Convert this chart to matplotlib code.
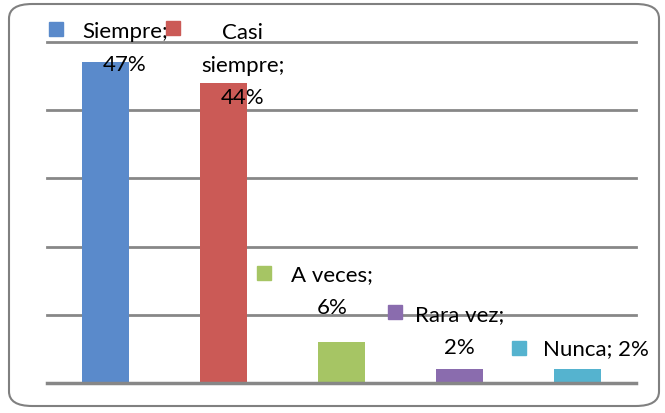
import matplotlib
matplotlib.use("Agg")
import matplotlib.pyplot as plt
from matplotlib.patches import FancyBboxPatch

categories = ["Siempre", "Casi siempre", "A veces", "Rara vez", "Nunca"]
values = [0.47, 0.44, 0.06, 0.02, 0.02]
label_texts = ["Siempre;\n47%", "Casi\nsiempre;\n44%", "A veces;\n6%", "Rara vez;\n2%", "Nunca; 2%"]
colors = ["#5A8ACB", "#CB5A56", "#A6C564", "#8A6CAE", "#55B3CF"]

W, H = 665, 414
fig = plt.figure(figsize=(W / 100, H / 100), dpi=100)
plt.rcParams['font.family'] = ['Lato', 'DejaVu Sans']

# rounded border
border = FancyBboxPatch((9 / W, 7 / H), (650) / W, (402) / H,
                        boxstyle="round,pad=0,rounding_size=0.035",
                        transform=fig.transFigure, fill=False,
                        edgecolor="#808080", linewidth=1.5)
fig.patches.append(border)

ax = fig.add_axes([47 / W, (H - 384) / H, (636 - 47) / W, (384 - 43) / H])
x = list(range(len(categories)))
ax.bar(x, values, width=0.4, color=colors, zorder=3)
ax.set_xlim(-0.5, 4.5)
ax.set_ylim(0, 0.5)
for y in [0.1, 0.2, 0.3, 0.4, 0.5]:
    ax.axhline(y, color="#878787", lw=2, zorder=1, clip_on=False)
ax.axhline(0, color="#878787", lw=2.5, zorder=4, clip_on=False)
for s in ax.spines.values():
    s.set_visible(False)
ax.set_xticks([])
ax.set_yticks([])

# label positions (data coords): text center, key center
text_pos = [(0.16, 0.492), (1.16, 0.467), (1.92, 0.136), (3.0, 0.077), (4.16, 0.051)]
key_pos = [(-0.42, 0.519), (0.57, 0.52), (1.34, 0.161), (2.45, 0.104), (3.51, 0.051)]
for i in range(len(categories)):
    tx, ty = text_pos[i]
    ax.text(tx, ty, label_texts[i], ha="center", va="center", fontsize=16,
            linespacing=1.8, color="#000000", zorder=5, clip_on=False)
    kx, ky = key_pos[i]
    ax.plot([kx], [ky], marker="s", markersize=9.5, color=colors[i],
            linestyle="none", zorder=6, clip_on=False)

fig.savefig("out.png", dpi=100)
